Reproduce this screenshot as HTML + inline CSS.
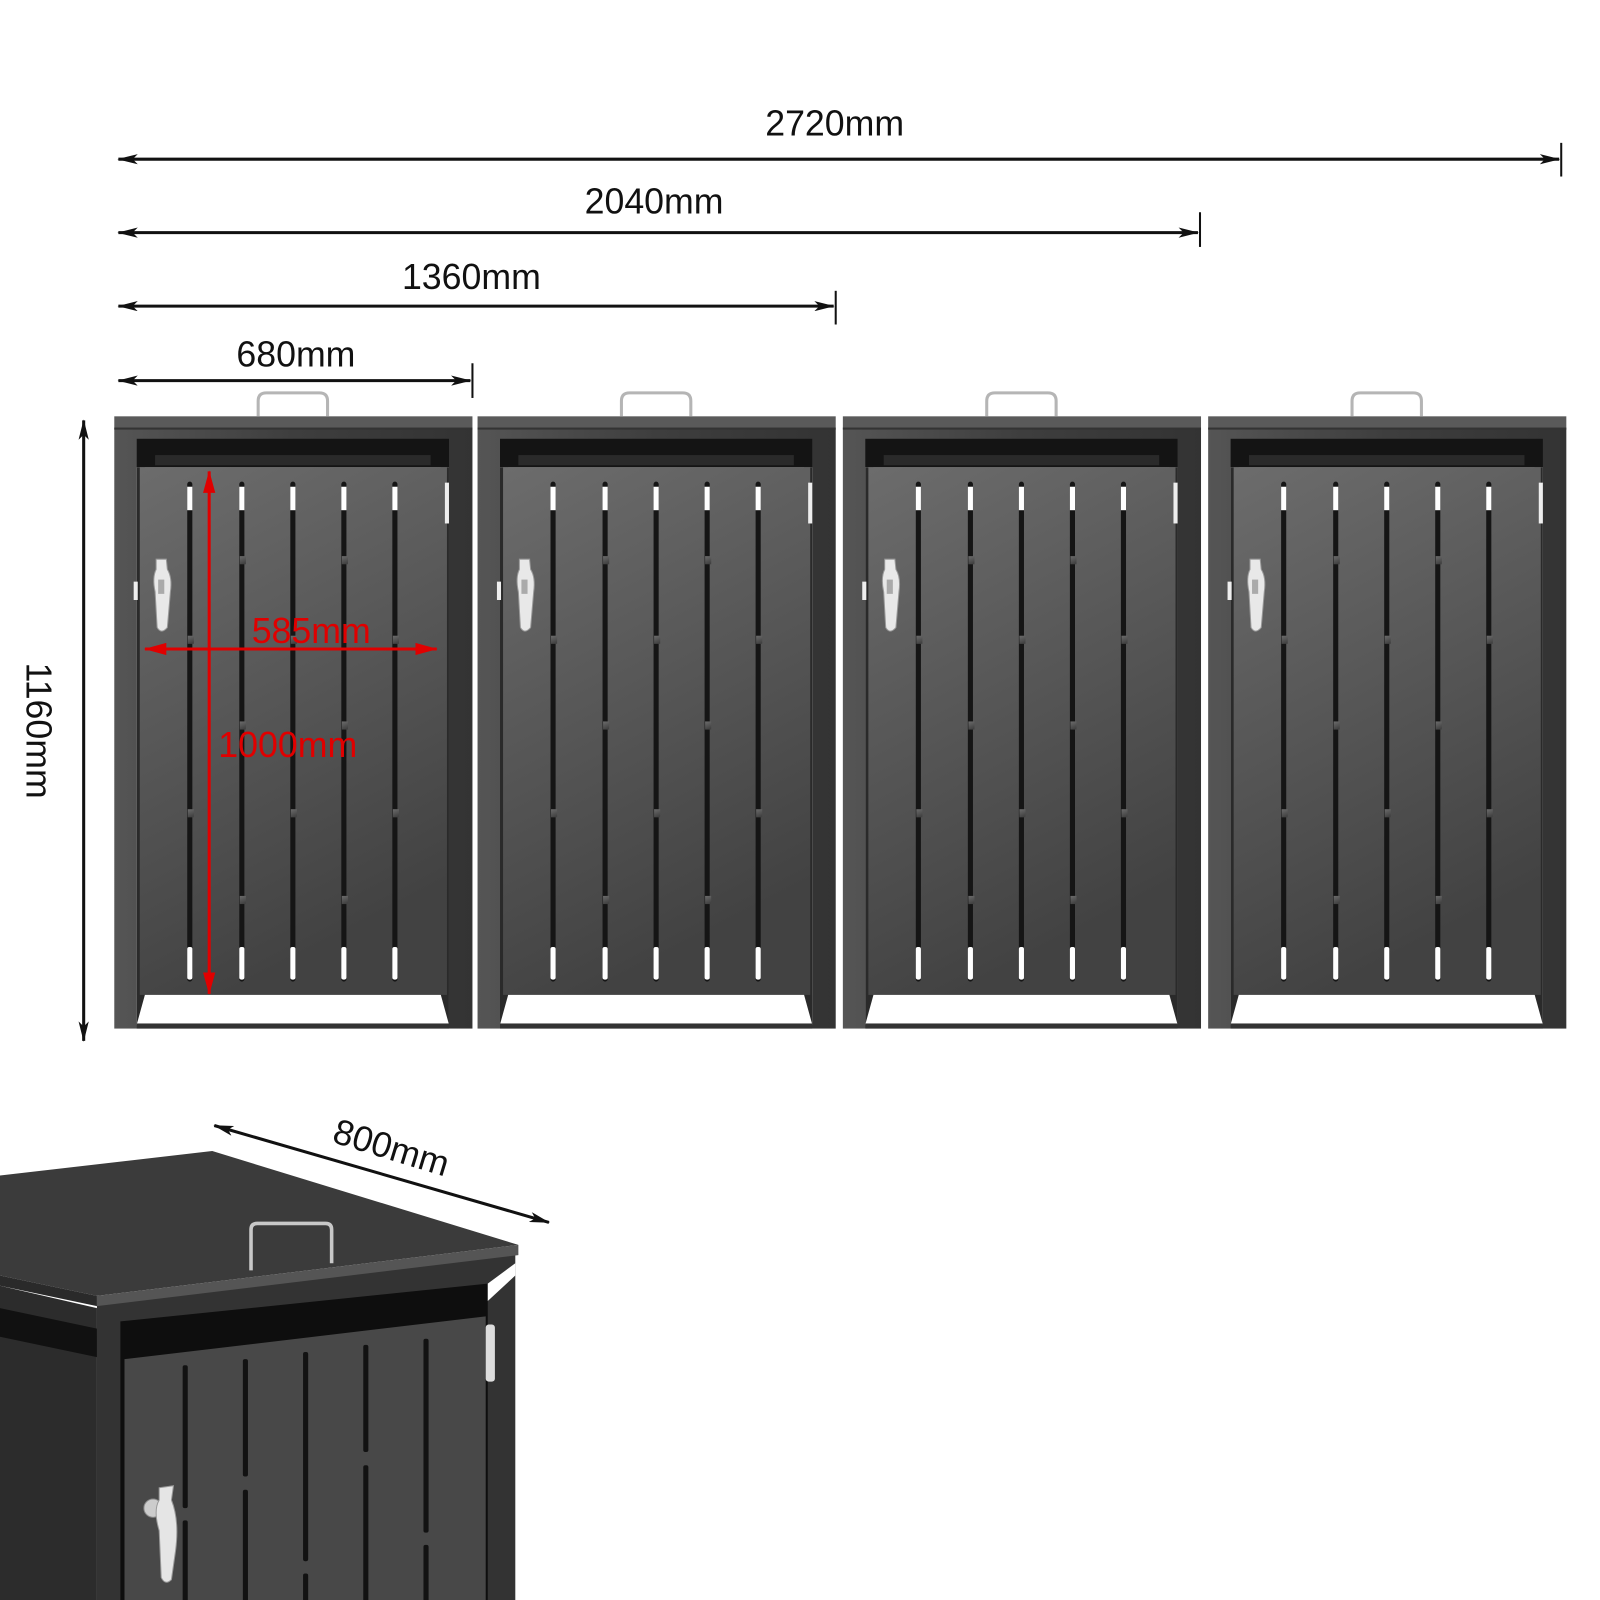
<!DOCTYPE html>
<html><head><meta charset="utf-8"><style>
html,body{margin:0;padding:0;background:#fff}
svg{display:block}
text{font-family:"Liberation Sans","DejaVu Sans",sans-serif}
</style></head><body>
<svg width="1600" height="1600" viewBox="0 0 1568 1568" xmlns="http://www.w3.org/2000/svg">
<defs>
<linearGradient id="door" x1="0" y1="0" x2="0.3" y2="1">
<stop offset="0" stop-color="#6c6c6c"/><stop offset="1" stop-color="#424242"/></linearGradient>
<linearGradient id="post" x1="0" y1="0" x2="1" y2="0">
<stop offset="0" stop-color="#555"/><stop offset="0.5" stop-color="#3e3e3e"/><stop offset="1" stop-color="#333"/></linearGradient>
<marker id="ah" viewBox="0 0 20 10" refX="19" refY="5" markerWidth="20" markerHeight="10" markerUnits="userSpaceOnUse" orient="auto-start-reverse">
<path d="M0,0 L20,5 L0,10 L5,5 Z" fill="#111"/></marker>
<marker id="ahr" viewBox="0 0 22 12" refX="21" refY="6" markerWidth="22" markerHeight="12" markerUnits="userSpaceOnUse" orient="auto-start-reverse">
<path d="M0,0 L22,6 L0,12 Z" fill="#e00000"/></marker>
<g id="slat">
<rect x="-2.5" y="472" width="5" height="490" rx="2.5" fill="#151515"/>
<rect x="-2.5" y="477" width="5" height="23" fill="#fff"/>
<rect x="-2.5" y="928" width="5" height="32" rx="2" fill="#fff"/>
</g>
<g id="cab">
<rect x="0" y="420" width="351" height="588" fill="url(#post)"/>
<rect x="22" y="430" width="306" height="28" fill="#141414"/>
<rect x="40" y="446" width="270" height="10" fill="#2a2a2a"/>
<rect x="22" y="458" width="306" height="546" fill="#fff"/>
<path d="M22,458 L30,458 L30,975 L22,1004 Z" fill="#2a2a2a"/>
<path d="M328,458 L320,458 L320,975 L328,1004 Z" fill="#2a2a2a"/>
<rect x="25" y="458" width="301" height="517" fill="url(#door)"/>
<rect x="22" y="1003" width="306" height="5" fill="#333"/>
<rect x="0" y="408" width="351" height="12" fill="#5a5a5a"/>
<rect x="0" y="419" width="351" height="2" fill="#333"/>
<path d="M141,408 V393 Q141,385 149,385 H201 Q209,385 209,393 V408" stroke="#b5b5b5" stroke-width="3" fill="none"/>
<use href="#slat" x="74"/><use href="#slat" x="125"/><use href="#slat" x="175"/><use href="#slat" x="225"/><use href="#slat" x="275"/>
<rect x="123" y="545" width="6" height="8" fill="url(#door)"/><rect x="223" y="545" width="6" height="8" fill="url(#door)"/>
<rect x="72" y="623" width="6" height="8" fill="url(#door)"/><rect x="173" y="623" width="6" height="8" fill="url(#door)"/><rect x="273" y="623" width="6" height="8" fill="url(#door)"/>
<rect x="123" y="707" width="6" height="8" fill="url(#door)"/><rect x="223" y="707" width="6" height="8" fill="url(#door)"/>
<rect x="72" y="793" width="6" height="8" fill="url(#door)"/><rect x="173" y="793" width="6" height="8" fill="url(#door)"/><rect x="273" y="793" width="6" height="8" fill="url(#door)"/>
<rect x="123" y="878" width="6" height="8" fill="url(#door)"/><rect x="223" y="878" width="6" height="8" fill="url(#door)"/>
<rect x="324" y="473" width="4" height="40" fill="#eee"/>
<rect x="19" y="570" width="4" height="18" fill="#eee"/>
<path d="M41,548 L51,548 L52,558 Q57,566 55,580 L52,615 Q46,622 42,615 L40,580 Q37,566 41,558 Z" fill="#e8e8e8" stroke="#999" stroke-width="1"/>
<rect x="43" y="568" width="6" height="14" fill="#aaa"/>
</g>
</defs>

<g stroke="#111" stroke-width="3">
<line x1="116" y1="156" x2="1528" y2="156" marker-start="url(#ah)" marker-end="url(#ah)"/>
<line x1="1530" y1="140" x2="1530" y2="173" stroke-width="2"/>
<line x1="116" y1="228" x2="1174" y2="228" marker-start="url(#ah)" marker-end="url(#ah)"/>
<line x1="1176" y1="208" x2="1176" y2="242" stroke-width="2"/>
<line x1="116" y1="300" x2="817" y2="300" marker-start="url(#ah)" marker-end="url(#ah)"/>
<line x1="819" y1="285" x2="819" y2="318" stroke-width="2"/>
<line x1="116" y1="373" x2="461" y2="373" marker-start="url(#ah)" marker-end="url(#ah)"/>
<line x1="463" y1="356" x2="463" y2="390" stroke-width="2"/>
<line x1="82" y1="412" x2="82" y2="1020" marker-start="url(#ah)" marker-end="url(#ah)"/>
</g>
<g font-size="35" fill="#111" text-anchor="middle">
<text x="818" y="133">2720mm</text>
<text x="641" y="209">2040mm</text>
<text x="462" y="283">1360mm</text>
<text x="290" y="359">680mm</text>
<text transform="translate(26,716) rotate(90)">1160mm</text>
</g>

<use href="#cab" x="112"/>
<use href="#cab" x="468"/>
<use href="#cab" x="826"/>
<use href="#cab" x="1184"/>

<g stroke="#e00000" stroke-width="3">
<line x1="205" y1="462" x2="205" y2="974" marker-start="url(#ahr)" marker-end="url(#ahr)"/>
<line x1="142" y1="636" x2="428" y2="636" marker-start="url(#ahr)" marker-end="url(#ahr)"/>
</g>
<g font-size="35" fill="#e00000" text-anchor="middle">
<text x="305" y="630">585mm</text>
<text x="282" y="742">1000mm</text>
</g>

<path d="M0,1260 L95,1282 L95,1600 L0,1600 Z" fill="#2c2c2c"/>
<path d="M0,1282 L95,1302 L95,1330 L0,1310 Z" fill="#111"/>
<path d="M95,1272 L505,1228 L505,1600 L95,1600 Z" fill="#333"/>
<path d="M118,1295 L478,1258 L478,1600 L118,1600 Z" fill="#0e0e0e"/>
<path d="M478,1258 L505,1238 L505,1250 L478,1275 Z" fill="#fff"/>
<path d="M122,1332 L476,1290 L476,1600 L122,1600 Z" fill="#484848"/>
<rect x="476" y="1298" width="9" height="56" rx="3" fill="#ddd"/>
<g fill="#121212">
<rect x="179" y="1338" width="5" height="140" rx="2"/><rect x="179" y="1490" width="5" height="110" rx="2"/>
<rect x="238" y="1332" width="5" height="115" rx="2"/><rect x="238" y="1460" width="5" height="140" rx="2"/>
<rect x="297" y="1325" width="5" height="205" rx="2"/><rect x="297" y="1542" width="5" height="58" rx="2"/>
<rect x="356" y="1318" width="5" height="105" rx="2"/><rect x="356" y="1436" width="5" height="164" rx="2"/>
<rect x="415" y="1312" width="5" height="190" rx="2"/><rect x="415" y="1514" width="5" height="86" rx="2"/>
</g>
<circle cx="150" cy="1478" r="9" fill="#ccc" stroke="#888"/>
<path d="M156,1458 L170,1456 L168,1470 Q176,1490 172,1520 L168,1548 Q162,1554 158,1546 L156,1500 Q150,1480 156,1470 Z" fill="#e5e5e5" stroke="#999"/>
<path d="M0,1152 L208,1128 L508,1220 L95,1270 L0,1250 Z" fill="#3b3b3b"/>
<path d="M95,1270 L508,1220 L508,1230 L95,1280 Z" fill="#555"/>
<path d="M0,1250 L95,1270 L95,1280 L0,1260 Z" fill="#2a2a2a"/>
<path d="M246,1245 V1205 Q246,1199 252,1199 H319 Q325,1199 325,1205 V1238" stroke="#c8c8c8" stroke-width="3.5" fill="none"/>
<line x1="210" y1="1103" x2="538" y2="1198" stroke="#111" stroke-width="3" marker-start="url(#ah)" marker-end="url(#ah)"/>
<text x="0" y="0" font-size="35" fill="#111" text-anchor="middle" transform="translate(380,1136) rotate(17)">800mm</text>
</svg>
</body></html>
